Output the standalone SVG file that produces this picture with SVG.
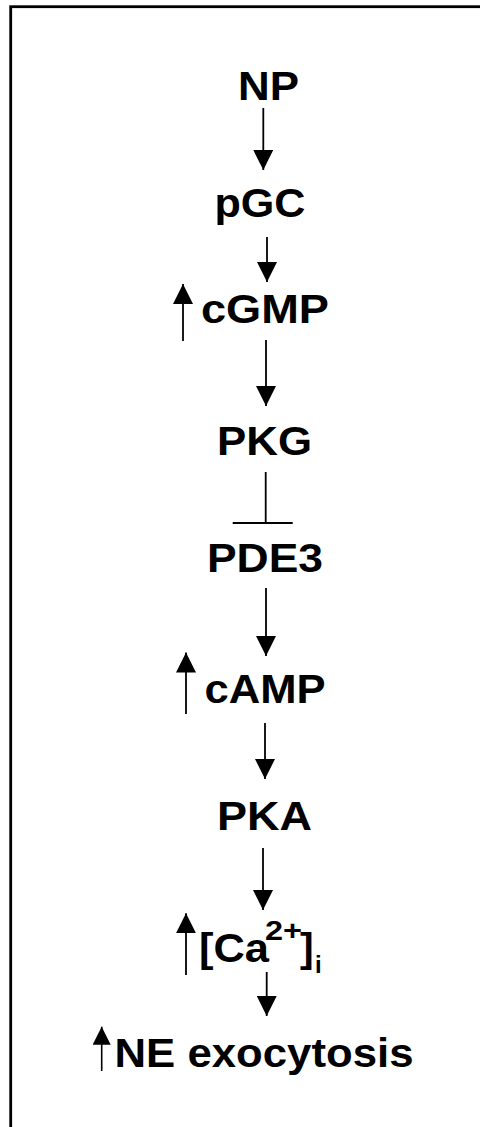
<svg xmlns="http://www.w3.org/2000/svg" width="480" height="1127" viewBox="0 0 480 1127">
<style>
  .lbl { font-family: "Liberation Sans", Arial, sans-serif; font-weight: bold; font-size: 41px; fill: #000; }
  .ln { stroke: #000; stroke-width: 1.8; fill: none; }
  .arr { stroke: #000; stroke-width: 1.8; fill: none; marker-end: url(#ah); }
  .arrs { stroke: #000; stroke-width: 1.6; fill: none; marker-end: url(#ahs); }
</style>
<defs>
  <marker id="ah" markerUnits="userSpaceOnUse" markerWidth="20" markerHeight="20" viewBox="0 0 20 20" refX="20" refY="10" orient="auto">
    <path d="M0,0 L20,10 L0,20 z" fill="#000"/>
  </marker>
  <marker id="ahs" markerUnits="userSpaceOnUse" markerWidth="18" markerHeight="18" viewBox="0 0 18 18" refX="18" refY="9" orient="auto">
    <path d="M0,0 L18,9 L0,18 z" fill="#000"/>
  </marker>
</defs>
<rect x="0" y="0" width="480" height="1127" fill="#fff"/>
<rect x="10.7" y="6.7" width="520" height="1200" fill="none" stroke="#000" stroke-width="2.8"/>

<g id="connectors">
  <line class="arr" x1="263.3" y1="108" x2="263.3" y2="170"/>
  <line class="arr" x1="267" y1="237" x2="267" y2="282"/>
  <line class="arr" x1="266" y1="340" x2="266" y2="406"/>
  <line class="ln" x1="265.7" y1="472" x2="265.7" y2="523"/>
  <line class="ln" x1="232.7" y1="523" x2="292.7" y2="523"/>
  <line class="arr" x1="266" y1="588" x2="266" y2="656"/>
  <line class="arr" x1="265" y1="723" x2="265" y2="779"/>
  <line class="arr" x1="263" y1="848" x2="263" y2="910"/>
  <line class="arr" x1="266.7" y1="972" x2="266.7" y2="1016"/>
  <line class="arr" x1="183" y1="341" x2="183" y2="284"/>
  <line class="arr" x1="186" y1="714" x2="186" y2="652.5"/>
  <line class="arr" x1="186" y1="975" x2="186" y2="913.3"/>
  <line class="arrs" x1="101.7" y1="1071" x2="101.7" y2="1026.7"/>
</g>

<g id="NP"><text class="lbl" x="268.5" y="100" text-anchor="middle" textLength="61" lengthAdjust="spacingAndGlyphs">NP</text></g>
<g id="pGC"><text class="lbl" x="260" y="216.5" text-anchor="middle" textLength="91" lengthAdjust="spacingAndGlyphs">pGC</text></g>
<g id="cGMP"><text class="lbl" x="265" y="323" text-anchor="middle" textLength="128" lengthAdjust="spacingAndGlyphs">cGMP</text></g>
<g id="PKG"><text class="lbl" x="264.5" y="455" text-anchor="middle" textLength="95" lengthAdjust="spacingAndGlyphs">PKG</text></g>
<g id="PDE3"><text class="lbl" x="265" y="571.5" text-anchor="middle" textLength="116" lengthAdjust="spacingAndGlyphs">PDE3</text></g>
<g id="cAMP"><text class="lbl" x="265" y="703" text-anchor="middle" textLength="121" lengthAdjust="spacingAndGlyphs">cAMP</text></g>
<g id="PKA"><text class="lbl" x="264.5" y="830" text-anchor="middle" textLength="95" lengthAdjust="spacingAndGlyphs">PKA</text></g>
<g id="Ca"><text class="lbl" y="962"><tspan x="199" textLength="70" lengthAdjust="spacingAndGlyphs">[Ca</tspan><tspan x="265" y="940" font-size="28" textLength="37" lengthAdjust="spacingAndGlyphs">2+</tspan><tspan x="300" y="962">]</tspan><tspan x="315" y="973" font-size="24">i</tspan></text></g>
<g id="NE"><text class="lbl" x="264" y="1067" text-anchor="middle" textLength="299" lengthAdjust="spacingAndGlyphs">NE exocytosis</text></g>
</svg>
